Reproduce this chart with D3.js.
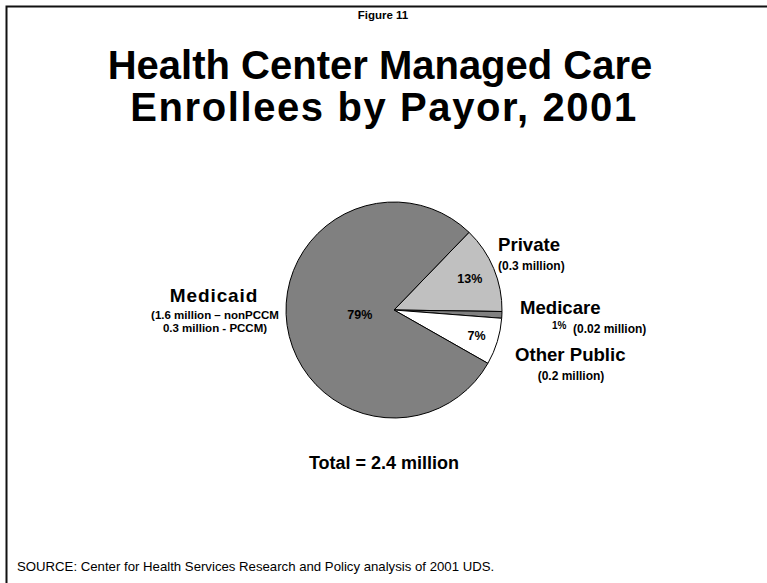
<!DOCTYPE html>
<meta charset="utf-8" />
<style>
  body { margin: 0; background: #fff; }
  svg { display: block; font-family: "Liberation Sans", Arial, sans-serif; }
  .narrow { font-family: "Liberation Sans Narrow", "Arial Narrow", "Liberation Sans", sans-serif; }
</style>
<body>
<script src="https://d3js.org/d3.v7.min.js"></script>
<script>
  // data (percent of 2.4 million enrollees)
  var payors = ["Private", "Medicare", "Other Public", "Medicaid"];
  var shares = [13, 1, 7, 79];
  var pctLabels = ["13%", "1%", "7%", "79%"];
  var amounts = ["(0.3 million)", "(0.02 million)", "(0.2 million)", ""];
  var fills = ["#c0c0c0", "#808080", "#ffffff", "#808080"];

  var width = 767, height = 583;
  var svg = d3.select("body").append("svg")
    .attr("width", width).attr("height", height);

  // frame: top and left edges only
  svg.append("path")
    .attr("d", "M6.5,583 L6.5,6.5 L767,6.5")
    .attr("fill", "none").attr("stroke", "#111").attr("stroke-width", 2);

  svg.append("text").attr("class", "narrow")
    .attr("x", 383).attr("y", 19).attr("text-anchor", "middle")
    .attr("font-size", 11.5).attr("font-weight", "bold")
    .text("Figure 11");

  var titleLines = ["Health Center Managed Care", "Enrollees by Payor, 2001"];
  svg.selectAll(".title").data(titleLines)
    .enter().append("text").attr("class", "title")
    .attr("x", function(d, i) { return i ? 384 : 380; })
    .attr("y", function(d, i) { return 79 + i * 42; })
    .attr("text-anchor", "middle")
    .attr("font-size", 40).attr("font-weight", "bold")
    .attr("letter-spacing", function(d, i) { return i ? 1.6 : 0; })
    .text(function(d) { return d; });

  // pie
  var cx = 394, cy = 310, r = 108;
  var start = 44 * Math.PI / 180;
  var pie = d3.pie().sort(null).value(function(d) { return d; })
    .startAngle(start).endAngle(start + 2 * Math.PI);
  var arcs = pie(shares);
  var arc = d3.arc().innerRadius(0).outerRadius(r);

  var g = svg.append("g").attr("transform", "translate(" + cx + "," + cy + ")");
  g.selectAll("path").data(arcs).enter().append("path")
    .attr("d", arc)
    .attr("fill", function(d, i) { return fills[i]; })
    .attr("stroke", "#000").attr("stroke-width", 1);

  // percent labels inside slices (Medicare's sits outside)
  var labelR = [0.76, 0, 0.8, 0.32];
  g.selectAll(".pct").data(arcs).enter().append("text")
    .filter(function(d, i) { return i !== 1; })
    .attr("transform", function(d) {
      var k = labelR[d.index] * r;
      return "translate(" + d3.arc().innerRadius(k).outerRadius(k).centroid(d) + ")";
    })
    .attr("text-anchor", "middle").attr("dy", "0.35em")
    .attr("font-size", 12.5).attr("font-weight", "bold")
    .text(function(d) { return pctLabels[d.index]; });

  // outside category labels
  var labelPos = [
    { x: 498, y: 251, anchor: "start", sx: 498, sy: 270 },
    { x: 520, y: 314, anchor: "start", sx: 573, sy: 333 },
    { x: 515, y: 361, anchor: "start", sx: 571, sy: 380 },
    { x: 214, y: 302, anchor: "middle", sx: 215, sy: 318.5 }
  ];
  labelPos.forEach(function(p, i) {
    svg.append("text")
      .attr("x", p.x).attr("y", p.y).attr("text-anchor", p.anchor)
      .attr("font-size", i === 3 ? 19 : 18.6).attr("font-weight", "bold")
      .attr("letter-spacing", i === 3 ? 0.9 : 0)
      .text(payors[i]);
  });
  [0, 2].forEach(function(i) {
    var p = labelPos[i];
    svg.append("text")
      .attr("x", p.sx).attr("y", p.sy)
      .attr("text-anchor", i === 2 ? "middle" : "start")
      .attr("font-size", 12).attr("font-weight", "bold")
      .text(amounts[i]);
  });
  // Medicare: small percent then amount
  svg.append("text")
    .attr("x", 552).attr("y", 328.5)
    .attr("font-size", 10).attr("font-weight", "bold")
    .text(pctLabels[1]);
  svg.append("text")
    .attr("x", labelPos[1].sx).attr("y", labelPos[1].sy)
    .attr("font-size", 12).attr("font-weight", "bold")
    .text(amounts[1]);
  // Medicaid detail lines
  svg.selectAll(".mcd").data(["(1.6 million \u2013 nonPCCM", "0.3 million - PCCM)"])
    .enter().append("text")
    .attr("x", labelPos[3].sx).attr("y", function(d, i) { return labelPos[3].sy + i * 13; })
    .attr("text-anchor", "middle")
    .attr("font-size", 11.5).attr("font-weight", "bold")
    .text(function(d) { return d; });

  svg.append("text")
    .attr("x", 384).attr("y", 469).attr("text-anchor", "middle")
    .attr("font-size", 18).attr("font-weight", "bold")
    .text("Total = 2.4 million");

  svg.append("text").attr("class", "narrow")
    .attr("x", 17).attr("y", 571)
    .attr("font-size", 13.2)
    .text("SOURCE: Center for Health Services Research and Policy analysis of 2001 UDS.");
</script>
</body>
